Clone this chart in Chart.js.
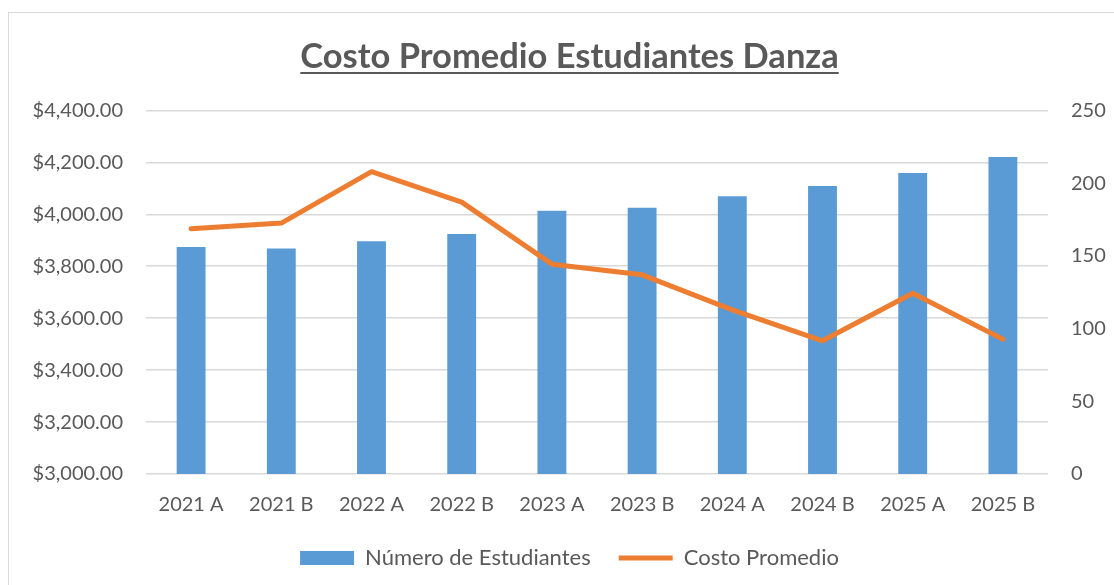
<!DOCTYPE html>
<html>
<head>
<meta charset="utf-8">
<script src="https://cdn.jsdelivr.net/npm/chart.js@4.4.1/dist/chart.umd.min.js"></script>
<style>
  html,body{margin:0;padding:0;background:#fff;overflow:hidden;}
  #wrap{position:relative;width:1114px;height:585px;}
  #frame{position:absolute;left:8px;top:12px;width:1200px;height:700px;border:1px solid #d9d9d9;box-sizing:border-box;}
  #chart{position:absolute;left:0;top:0;}
</style>
</head>
<body>
<div id="wrap">
  <div id="frame"></div>
  <canvas id="chart" width="1114" height="585"></canvas>
</div>
<script>
/* ── DATA ── */
const periodos    = ['2021 A','2021 B','2022 A','2022 B','2023 A','2023 B','2024 A','2024 B','2025 A','2025 B'];
const estudiantes = [156, 155, 160, 165, 181, 183, 191, 198, 207, 218];
const costoProm   = [3944, 3966, 4164, 4047, 3808, 3767, 3632, 3513, 3696, 3519];
const tituloTxt   = 'Costo Promedio Estudiantes Danza';

const TXT = '#595959', GRID = '#d9d9d9', AZUL = '#5b9bd5', NARANJA = '#ed7d31';
const FONT = 'Lato';
const PAD_L = 25;   // shifts title + legend to the right like the original

const money = v => '$' + Number(v).toLocaleString('en-US',{minimumFractionDigits:2,maximumFractionDigits:2});

// underline under the chart title
const underlineTitle = {
  id:'underlineTitle',
  afterDraw(chart){
    const tb = chart.titleBlock; if(!tb) return;
    const o = tb.options, f = Chart.helpers.toFont(o.font);
    const ctx = chart.ctx;
    ctx.save();
    ctx.font = f.string;
    const w = ctx.measureText(tituloTxt).width;
    const cx = (tb.left + tb.right)/2;
    const y = tb.top + o.padding.top + f.lineHeight/2 + f.size*0.47;
    ctx.strokeStyle = TXT; ctx.lineWidth = 2;
    ctx.beginPath(); ctx.moveTo(cx - w/2, y); ctx.lineTo(cx + w/2, y); ctx.stroke();
    ctx.restore();
  }
};

new Chart(document.getElementById('chart').getContext('2d'), {
  type:'bar',
  data:{
    labels: periodos,
    datasets:[
      { label:'Número de Estudiantes', data:estudiantes, yAxisID:'y1', order:2,
        backgroundColor:AZUL, borderWidth:0, barPercentage:0.32, categoryPercentage:1,
        pointStyle:'rect' },
      { label:'Costo Promedio', data:costoProm, yAxisID:'y', type:'line', order:1,
        borderColor:NARANJA, backgroundColor:NARANJA, borderWidth:5, pointRadius:0,
        borderCapStyle:'round', borderJoinStyle:'round', tension:0, fill:false,
        pointStyle:'line' }
    ]
  },
  options:{
    responsive:false, animation:false,
    layout:{ padding:{ left:PAD_L, right:0, top:0, bottom:6 } },
    plugins:{
      title:{ display:true, text:tituloTxt, color:TXT,
        font:{ family:FONT, size:34.5, weight:'bold' }, padding:{ top:36, bottom:33 } },
      legend:{ position:'bottom',
        labels:{ color:TXT, font:{ family:FONT, size:22 }, usePointStyle:true,
          pointStyleWidth:54, boxHeight:14, padding:28,
          sort:(a,b)=>a.datasetIndex-b.datasetIndex } },
      tooltip:{ enabled:false }
    },
    scales:{
      x:{ grid:{ display:false }, border:{ display:false },
        ticks:{ color:TXT, font:{ family:FONT, size:20 }, padding:11 },
        afterFit:s=>{ s.height = 45; } },
      y:{ position:'left', min:3000, max:4400,
        grid:{ color:GRID, lineWidth:1.5, drawTicks:false }, border:{ display:false },
        ticks:{ stepSize:200, color:TXT, font:{ family:FONT, size:20 }, padding:23, callback:v=>money(v) },
        afterFit:s=>{ s.width = 146 - PAD_L; } },
      y1:{ position:'right', min:0, max:250,
        grid:{ display:false, drawTicks:false }, border:{ display:false },
        ticks:{ stepSize:50, color:TXT, font:{ family:FONT, size:20 }, padding:23 },
        afterFit:s=>{ s.width = 66; } }
    }
  },
  plugins:[underlineTitle]
});
</script>
</body>
</html>
